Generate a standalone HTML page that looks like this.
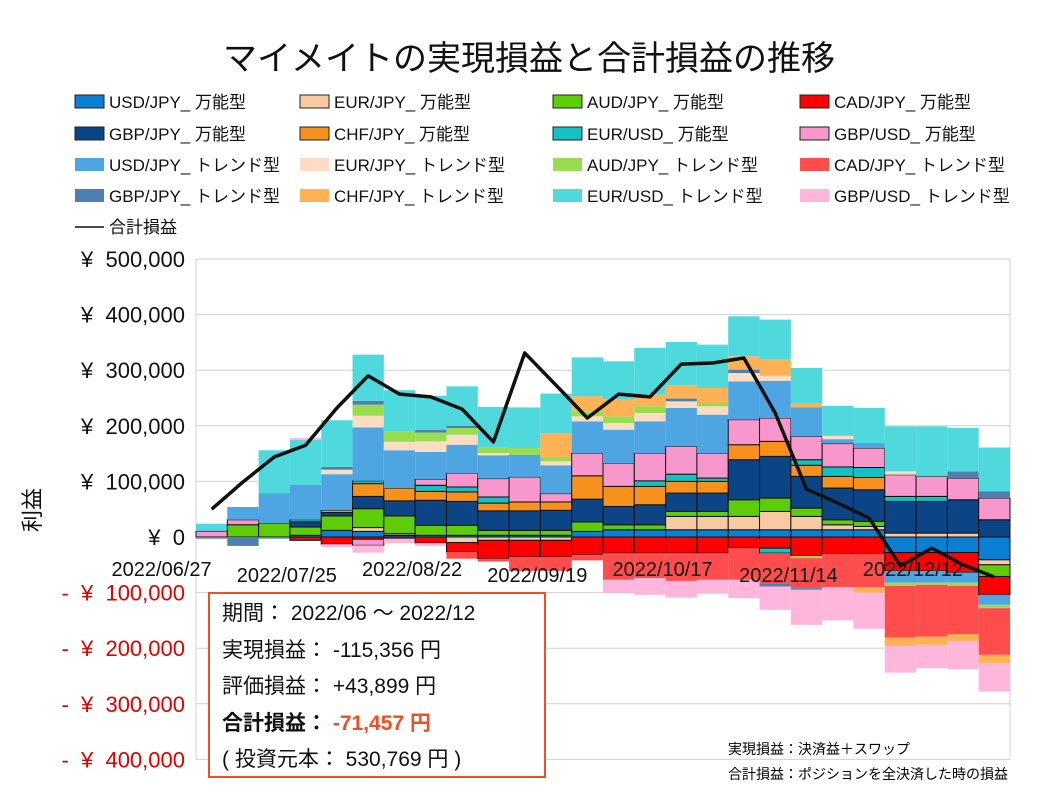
<!DOCTYPE html>
<html><head><meta charset="utf-8">
<style>
body{margin:0;background:#fff;font-family:"Liberation Sans","Noto Sans CJK JP",sans-serif;}
#wrap{position:relative;width:1058px;height:794px;overflow:hidden;}
svg text{font-family:"Liberation Sans","Noto Sans CJK JP",sans-serif;}
</style></head>
<body>
<div id="wrap">
<svg id="chart" width="1058" height="794"></svg>
<div style="position:absolute;left:208px;top:592px;width:338px;height:186px;border:2.5px solid #f04e23;background:#fff;font-size:21px;line-height:36.5px;padding:2px 0 0 12px;box-sizing:border-box;color:#111;">
<div>期間：&nbsp;2022/06 ～ 2022/12</div>
<div>実現損益：&nbsp;-115,356 円</div>
<div>評価損益：&nbsp;+43,899 円</div>
<div style="font-weight:bold">合計損益：&nbsp;<span style="color:#f04e23">-71,457 円</span></div>
<div>(&nbsp;投資元本：&nbsp;530,769 円&nbsp;)</div>
</div>
<div style="position:absolute;left:728px;top:739px;font-size:14px;">実現損益：決済益＋スワップ</div>
<div style="position:absolute;left:728px;top:764px;font-size:14px;">合計損益：ポジションを全決済した時の損益</div>
</div>
<script>
const categories=["2022/06/27","07/04","07/11","07/18","2022/07/25","08/01","08/08","08/15","2022/08/22","08/29","09/05","09/12","2022/09/19","09/26","10/03","10/10","2022/10/17","10/24","10/31","11/07","2022/11/14","11/21","11/28","12/05","2022/12/12","12/19"];
const seriesNames=["USD/JPY_ 万能型","EUR/JPY_ 万能型","AUD/JPY_ 万能型","CAD/JPY_ 万能型","GBP/JPY_ 万能型","CHF/JPY_ 万能型","EUR/USD_ 万能型","GBP/USD_ 万能型","USD/JPY_ トレンド型","EUR/JPY_ トレンド型","AUD/JPY_ トレンド型","CAD/JPY_ トレンド型","GBP/JPY_ トレンド型","CHF/JPY_ トレンド型","EUR/USD_ トレンド型","GBP/USD_ トレンド型"];
const s0=[0,0,0,3,12,10,3,3,3,3,3,3,10,13,13,13,13,13,13,13,13,13,-28,-28,-28,-41];
const s1=[0,0,0,0,0,7,3,0,-10,-6,-6,-6,0,0,0,24,24,24,33,24,9,6,7,7,7,-9];
const s2=[0,22,25,15,26,34,32,18,18,9,9,9,17,9,9,9,9,30,24,15,9,9,0,0,0,-21];
const s3=[0,0,0,-6,-13,-4,-3,-11,-17,-33,-30,-30,-32,-29,-29,-29,-29,-20,-20,-34,-30,-30,-33,-33,-36,-33];
const s4=[0,0,0,9,6,22,27,45,43,35,35,36,41,33,36,33,33,72,75,57,57,57,57,57,60,31];
const s5=[0,0,0,0,4,23,23,16,17,14,16,15,42,36,33,21,21,27,27,20,21,22,0,0,0,0];
const s6=[0,0,0,4,0,5,0,11,9,11,0,0,0,0,10,13,6,0,-9,10,17,18,9,9,0,0];
const s7=[10,9,0,0,0,-11,0,11,25,33,45,15,41,42,50,50,45,45,42,42,42,35,39,36,39,39];
const s8=[2,23,54,63,65,96,68,49,51,42,40,51,57,60,57,69,69,69,67,52,8,9,-21,-21,-18,-18];
const s9=[0,0,0,0,8,21,15,19,18,4,0,7,9,12,15,12,15,15,9,0,6,0,6,0,0,0];
const s10=[0,0,0,0,0,20,19,16,12,11,12,8,9,12,12,0,6,0,0,-4,0,0,-6,-4,-6,-6];
const s11=[0,0,0,0,0,0,0,0,-12,-5,-25,-25,-10,-48,-45,-50,-48,-57,-54,-54,-60,-60,-93,-93,-87,-84];
const s12=[-3,-16,-3,0,5,7,0,5,4,0,0,0,0,0,0,5,0,6,-6,-3,0,0,0,0,12,12];
const s13=[0,0,0,0,0,0,0,0,0,0,0,43,27,30,21,24,27,24,29,8,0,-10,-15,-15,-12,-15];
const s14=[12,0,77,81,84,83,74,61,71,72,73,71,70,69,84,78,78,72,72,63,54,63,81,90,78,79];
const s15=[0,0,0,3,-5,-13,-8,-5,0,0,0,0,0,-24,-30,-30,-25,-33,-42,-63,-60,-65,-48,-42,-51,-51];
const totalPL=[50,99,144,165,232,290,257,252,230,171,331,273,214,257,252,311,313,322,223,86,61,34,-52,-20,-50,-72];
const yTicks=[500,400,300,200,100,0,-100,-200,-300,-400];
const yTickLabels=["¥  500,000","¥  400,000","¥  300,000","¥  200,000","¥  100,000","¥  0","-  ¥  100,000","-  ¥  200,000","-  ¥  300,000","-  ¥  400,000"];
const xLabelIdx=[0,4,8,12,16,20,24];

const series=[s0,s1,s2,s3,s4,s5,s6,s7,s8,s9,s10,s11,s12,s13,s14,s15];
const colors=["#0a7fd4","#f9c9a2","#5fcc0a","#ff0000","#0b4585","#f7901c","#14c2c6","#f797cb","#4ea5e2","#fcdcc2","#98dc50","#ff4c4c","#4e7fb3","#ffb255","#4fd9dc","#ffb6dc"];
const NS="http://www.w3.org/2000/svg";
const svg=document.getElementById('chart');
const X0=196,X1=1010,YTOP=259,YZERO=537,PXK=0.556;
const bw=(X1-X0)/categories.length;
function xs(i){return X0+bw*i;}
function ys(v){return YZERO-v*PXK;}
function mk(tag,attrs,parent){const e=document.createElementNS(NS,tag);for(const k in attrs)e.setAttribute(k,attrs[k]);(parent||svg).appendChild(e);return e;}

let t=mk('text',{x:529,y:70,'text-anchor':'middle','font-size':34,fill:'#111'});t.textContent='マイメイトの実現損益と合計損益の推移';



const colX=[75,300,553,800],rowY=[101,133,164,195];
seriesNames.forEach((n,i)=>{
  const g=mk('g',{});
  
  
  const cx=colX[i%4],cy=rowY[Math.floor(i/4)];
  mk('rect',{x:cx,y:cy-6,width:29,height:13,fill:colors[i],stroke:i<8?'#222':'none','stroke-width':1},g);
  const tx=mk('text',{x:cx+34,y:cy+7,'font-size':17,fill:'#111'},g);tx.textContent=n;
});
const lg=mk('g',{});


mk('line',{x1:75,x2:104,y1:227,y2:227,stroke:'#111','stroke-width':1.5},lg);
let lt=mk('text',{x:109,y:233,'font-size':17,fill:'#111'},lg);lt.textContent='合計損益';

yTicks.forEach((v,i)=>{
  const gl=mk('line',{x1:X0,x2:X1,y1:ys(v),y2:ys(v),stroke:'#d0d0d0','stroke-width':1});
  
  
  const neg=v<0;
  const tl=mk('text',{x:185,y:ys(v)+8,'text-anchor':'end','font-size':22,fill:neg?'#e00000':'#111',style:'white-space:pre'});
  tl.textContent=yTickLabels[i];
  
  
});
mk('line',{x1:X0,x2:X0,y1:YTOP,y2:ys(-400),stroke:'#d0d0d0'});
mk('line',{x1:X1,x2:X1,y1:YTOP,y2:ys(-400),stroke:'#d0d0d0'});
const yt=mk('text',{x:0,y:0,'font-size':22,fill:'#111','text-anchor':'middle',transform:'translate(40,510) rotate(-90)'});
yt.textContent='利益';



categories.forEach((c,i)=>{
  let pos=0,neg=0;
  series.forEach((s,k)=>{
    const v=s[i];if(!v)return;
    let a,b;
    if(v>0){a=pos;b=pos+v;pos=b;}else{a=neg;b=neg+v;neg=b;}
    const r=mk('rect',{x:xs(i),y:Math.min(ys(a),ys(b)),width:bw,height:Math.abs(ys(a)-ys(b)),fill:colors[k],stroke:k<8?'#111':'none','stroke-width':k<8?1:0});
    
    
  });
});

xLabelIdx.forEach(i=>{
  const tx=mk('text',{x:xs(i)+bw/2,y:i%8===4?582:576,'text-anchor':'end','font-size':20,fill:'#111'});
  tx.textContent=categories[i];
  
  
});

const pts=totalPL.map((v,i)=>(xs(i)+bw/2)+','+ys(v)).join(' ');
const pl=mk('polyline',{points:pts,fill:'none',stroke:'#111','stroke-width':3.5,'stroke-linejoin':'round'});


</script>
</body></html>
